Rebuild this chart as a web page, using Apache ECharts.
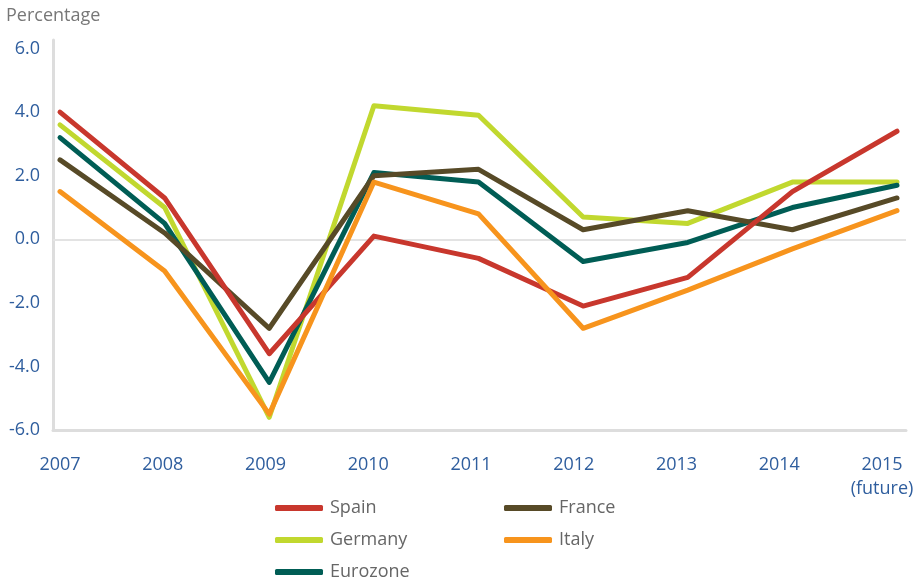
<!DOCTYPE html>
<html>
<head>
<meta charset="utf-8">
<script src="https://cdn.jsdelivr.net/npm/echarts@6/dist/echarts.min.js"></script>
<style>
  html, body { margin: 0; padding: 0; background: #fff; }
  #chart { width: 914px; height: 587px; }
</style>
</head>
<body>
<div id="chart"></div>
<script>
// data
const years = ['2007', '2008', '2009', '2010', '2011', '2012', '2013', '2014', '2015\n(future)'];
const yTicks = [-6, -4, -2, 0, 2, 4, 6];
const spain    = [4.0, 1.3, -3.6, 0.1, -0.6, -2.1, -1.2, 1.5, 3.4];
const france   = [2.5, 0.2, -2.8, 2.0, 2.2, 0.3, 0.9, 0.3, 1.3];
const germany  = [3.6, 1.0, -5.6, 4.2, 3.9, 0.7, 0.5, 1.8, 1.8];
const italy    = [1.5, -1.0, -5.5, 1.8, 0.8, -2.8, -1.6, -0.3, 0.9];
const eurozone = [3.2, 0.5, -4.5, 2.1, 1.8, -0.7, -0.1, 1.0, 1.7];

const colors = {
  Spain: '#C8372D',
  France: '#574A27',
  Germany: '#C1D82F',
  Italy: '#F7941D',
  Eurozone: '#005D55'
};
const blue = '#2F5E9E';
const grey = '#DDDDDD';

// year labels in the original sit a little tighter than the points
const labelStep = 102.75 / 104.625;

// pair every value with its category index (x axis is a value axis so the frame can reach past the first/last year)
const toPoints = arr => arr.map((v, i) => [i, v]);

const mkSeries = (name, arr, extra) => Object.assign({
  name: name,
  type: 'line',
  data: toPoints(arr),
  symbol: 'none',
  color: colors[name],
  lineStyle: { width: 5, color: colors[name], cap: 'round', join: 'round' },
  emphasis: { disabled: true },
  animation: false
}, extra || {});

const noTick = { show: false };

const chart = echarts.init(document.getElementById('chart'));

const option = {
  animation: false,
  title: {
    text: 'Percentage',
    left: 1,
    top: 2,
    textStyle: { fontFamily: 'Open Sans', fontSize: 18, fontWeight: 'normal', color: '#777777' }
  },
  grid: { left: 53, right: 8, top: 40, bottom: 157, outerBoundsMode: 'none', containLabel: false },
  legend: {
    data: ['Spain', 'France', 'Germany', 'Italy', 'Eurozone'],
    left: 275,
    top: 497,
    width: 460,
    padding: 0,
    orient: 'horizontal',
    icon: 'roundRect',
    itemWidth: 48,
    itemHeight: 6,
    itemGap: 10,
    textStyle: { fontFamily: 'Open Sans', fontSize: 18, color: '#666666', width: 164, lineHeight: 22, padding: [0, 0, 0, 2] }
  },
  xAxis: {
    type: 'value',
    min: -0.067,
    max: 8.086,
    splitLine: { show: false },
    axisTick: noTick,
    axisLine: { show: true, onZero: false, lineStyle: { color: grey, width: 3 } },
    axisLabel: {
      customValues: years.map((y, i) => i * labelStep),
      formatter: v => years[Math.round(v / labelStep)],
      color: blue,
      fontFamily: 'Open Sans',
      fontSize: 18,
      lineHeight: 24,
      margin: 23
    }
  },
  yAxis: {
    type: 'value',
    min: -6,
    max: 6.27,
    splitLine: { show: false },
    axisTick: noTick,
    axisLine: { show: true, onZero: false, lineStyle: { color: grey, width: 3 } },
    axisLabel: {
      customValues: yTicks,
      formatter: v => v.toFixed(1),
      color: blue,
      fontFamily: 'Open Sans',
      fontSize: 18,
      margin: 13
    }
  },
  series: [
    mkSeries('Germany', germany, {
      markLine: {
        silent: true,
        symbol: 'none',
        label: { show: false },
        lineStyle: { color: '#E3E3E3', width: 2, type: 'solid' },
        data: [{ yAxis: 0 }],
        z: 1
      }
    }),
    mkSeries('Eurozone', eurozone),
    mkSeries('France', france),
    mkSeries('Spain', spain),
    mkSeries('Italy', italy)
  ]
};

chart.setOption(option);
</script>
</body>
</html>
